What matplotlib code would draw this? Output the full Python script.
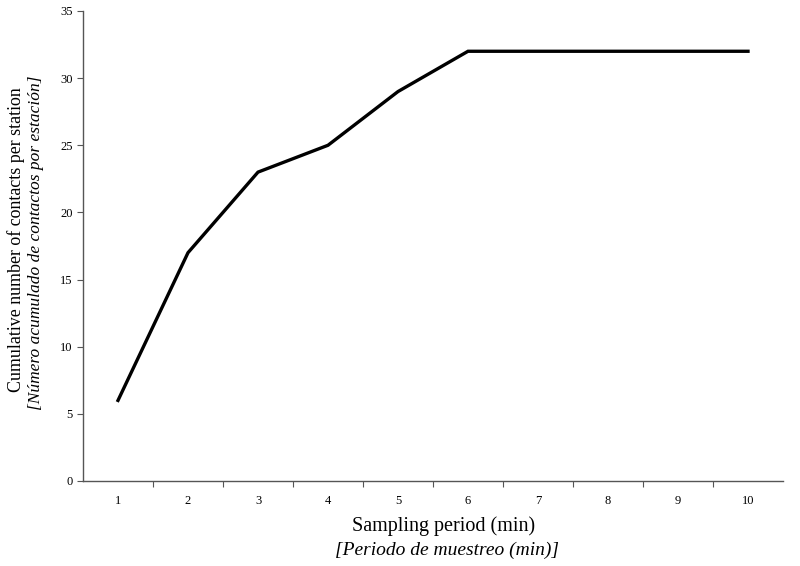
import matplotlib
matplotlib.use("Agg")
import matplotlib.pyplot as plt

periods = [1, 2, 3, 4, 5, 6, 7, 8, 9, 10]
contacts = [6, 17, 23, 25, 29, 32, 32, 32, 32, 32]
yticks = [0, 5, 10, 15, 20, 25, 30, 35]

plt.rcParams['font.family'] = ['Liberation Serif', 'DejaVu Serif']

fig = plt.figure(figsize=(8, 5.66), dpi=100)
ax = fig.add_axes([0.10375, 0.1502, 0.875, 0.8304])
ax.plot(periods, contacts, color='black', lw=2.4, solid_joinstyle='miter')
ax.set_xlim(0.5, 10.5)
ax.set_ylim(0, 35)
ax.set_yticks(yticks)
ax.set_xticks([p + 0.5 for p in periods[:-1]])
ax.set_xticklabels([])
ax.set_xticks(periods, minor=True)
ax.set_xticklabels([str(p) for p in periods], minor=True)
ax.tick_params(axis='x', which='minor', length=0, pad=10, labelsize=9)
ax.tick_params(axis='x', which='major', length=4, direction='out', color='#555555')
ax.tick_params(axis='y', length=4, direction='out', labelsize=9, color='#555555')
for s in ['top', 'right']:
    ax.spines[s].set_visible(False)
for s in ['left', 'bottom']:
    ax.spines[s].set_color('#555555')
    ax.spines[s].set_linewidth(1.0)

fig.text(0.555, 0.071, 'Sampling period (min)', ha='center', va='center', fontsize=14.5)
fig.text(0.559, 0.028, '[Periodo de muestreo (min)]', ha='center', va='center', fontsize=14, style='italic')
fig.text(0.020, 0.576, 'Cumulative number of contacts per station', ha='center', va='center', rotation=90, fontsize=12.9)
fig.text(0.045, 0.571, '[Número acumulado de contactos por estación]', ha='center', va='center', rotation=90, fontsize=12.5, style='italic')

fig.savefig('out.png', dpi=100)
